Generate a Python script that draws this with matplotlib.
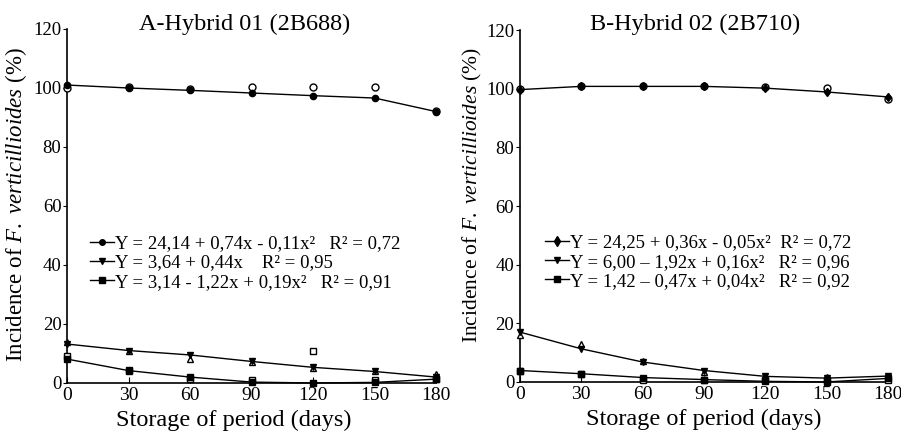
import matplotlib
matplotlib.use("Agg")
import matplotlib.pyplot as plt
from matplotlib.lines import Line2D

plt.rcParams['font.family'] = 'Liberation Serif'
plt.rcParams['mathtext.fontset'] = 'custom'
plt.rcParams['mathtext.rm'] = 'Liberation Serif'
plt.rcParams['mathtext.it'] = 'Liberation Serif:italic'

days = [0, 30, 60, 90, 120, 150, 180]
yticks = [0, 20, 40, 60, 80, 100, 120]

titles = ["A-Hybrid 01 (2B688)", "B-Hybrid 02 (2B710)"]

# panel A
fit1_A = [101.0, 100.0, 99.2, 98.3, 97.4, 96.6, 92.0]
obs1_A = [100.0, 100.5, 99.8, 100.2, 100.3, 100.3, 92.2]
fit2_A = [13.2, 11.0, 9.5, 7.3, 5.3, 3.9, 2.0]
obs2_A = [14.0, 11.0, 8.0, 7.2, 5.2, 4.0, 3.0]
fit3_A = [8.1, 4.2, 2.0, 0.3, 0.0, 0.2, 1.3]
obs3_A = [9.0, 4.3, 1.4, 1.0, 11.0, 1.0, 1.3]
labels_A = ["Y = 24,14 + 0,74x - 0,11x\u00b2   R\u00b2 = 0,72",
            "Y = 3,64 + 0,44x    R\u00b2 = 0,95",
            "Y = 3,14 - 1,22x + 0,19x\u00b2   R\u00b2 = 0,91"]

# panel B
fit1_B = [99.7, 100.8, 100.8, 100.8, 100.2, 98.9, 97.2]
obs1_B = [100.0, 101.0, 101.0, 101.0, 100.5, 100.2, 96.5]
fit2_B = [17.0, 11.3, 6.8, 3.9, 1.9, 1.3, 2.0]
obs2_B = [16.0, 13.0, 7.0, 3.5, 1.9, 1.6, 2.0]
fit3_B = [3.9, 2.8, 1.5, 0.8, 0.2, 0.0, 1.2]
obs3_B = [3.9, 2.7, 0.8, 0.7, 0.8, 0.6, 0.6]
labels_B = ["Y = 24,25 + 0,36x - 0,05x\u00b2  R\u00b2 = 0,72",
            "Y = 6,00 \u2013 1,92x + 0,16x\u00b2   R\u00b2 = 0,96",
            "Y = 1,42 \u2013 0,47x + 0,04x\u00b2   R\u00b2 = 0,92"]

fig = plt.figure(figsize=(9.01, 4.36), dpi=100)
axA = fig.add_axes([0.0744, 0.1216, 0.4096, 0.8119])
axB = fig.add_axes([0.577, 0.124, 0.4086, 0.807])

panels = [
    (axA, [fit1_A, fit2_A, fit3_A], [obs1_A, obs2_A, obs3_A], labels_A, 'o',
     0.272, 0.453, (0.062, 0.418), 16.5, (-0.103, 0.503)),
    (axB, [fit1_B, fit2_B, fit3_B], [obs1_B, obs2_B, obs3_B], labels_B, 'd',
     0.7715, 0.5, (0.068, 0.42), 15.5, (-0.098, 0.531)),
]

for i, (ax, fits, obss, labels, m1, tx, lx, lpos, yfs, ypos) in enumerate(panels):
    fit_markers = [m1, 'v', 's']
    obs_markers = ['o', '^', 's']
    for fit, obs, fm, om in zip(fits, obss, fit_markers, obs_markers):
        ax.plot(days, obs, linestyle='none', marker=om, markersize=5,
                markerfacecolor='white', markeredgecolor='black',
                markeredgewidth=1, clip_on=False, zorder=3)
        ax.plot(days, fit, color='black', linewidth=1, marker=fm,
                markersize=4.5, markerfacecolor='black',
                markeredgecolor='black', clip_on=False, zorder=4)

    ax.set_xlim(0, 180)
    ax.set_ylim(0, 120)
    ax.set_xticks(days)
    ax.set_yticks(yticks)
    for s in ['top', 'right']:
        ax.spines[s].set_visible(False)
    for s in ['left', 'bottom']:
        ax.spines[s].set_linewidth(1.2)
    ax.tick_params(axis='x', direction='in', length=4, labelsize=14, pad=3)
    ax.tick_params(axis='y', direction='out', length=3, labelsize=13.5, pad=1)
    ax.set_xlabel("Storage of period (days)", fontsize=17.5)
    ax.xaxis.set_label_coords(lx, -0.075)
    ax.set_ylabel(r"Incidence of $\mathit{F.}$ $\mathit{verticillioides}$ (%)",
                  fontsize=yfs)
    ax.yaxis.set_label_coords(*ypos)
    fig.text(tx, 0.943, titles[i], fontsize=17.5, ha='center', va='center')

    handles = [Line2D([], [], color='black', linewidth=1, marker=m,
                      markersize=5 if m != 'o' else 4, markerfacecolor='black')
               for m in fit_markers]
    ax.legend(handles, labels, loc='upper left',
              bbox_to_anchor=lpos, frameon=False, fontsize=13.5,
              handlelength=1.3, handletextpad=0.05, labelspacing=0.12,
              borderpad=0, borderaxespad=0)

fig.savefig("out.png", dpi=100)
